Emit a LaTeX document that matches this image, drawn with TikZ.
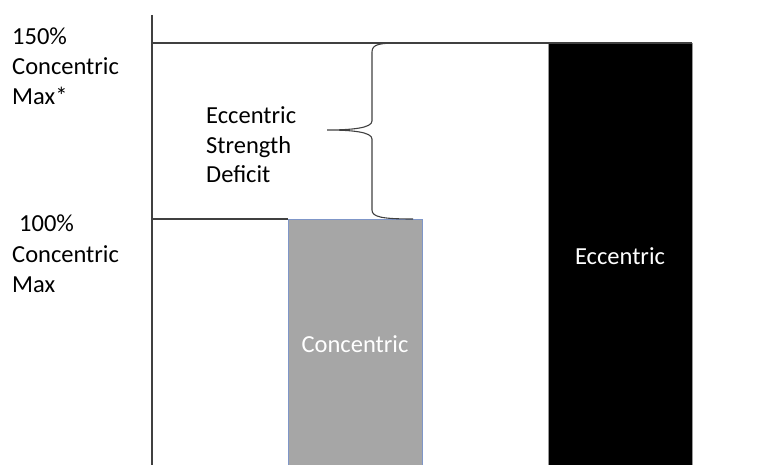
\documentclass[tikz,border=0pt]{standalone}
\usepackage{fontspec}
\setmainfont{Carlito}
\definecolor{linegray}{HTML}{404040}
\definecolor{barfill}{HTML}{A6A6A6}
\definecolor{barblue}{HTML}{7F96C8}
\begin{document}
\begin{tikzpicture}[x=1pt,y=-1pt,
  lbl/.style={anchor=base west,inner sep=0pt,font=\fontsize{24.5}{30}\selectfont},
  barlbl/.style={anchor=base,inner sep=0pt,text=white,font=\fontsize{24.5}{30}\selectfont},
  axisline/.style={draw=linegray,line width=1.4pt},
  bracestyle/.style={draw=linegray,line width=1.1pt}]
\useasboundingbox (0,0) rectangle (771,465);
% bars
\fill[black] (548,43) rectangle (692,465);
\draw[draw=gray!80,line width=0.6pt] (548,465) -- (548,43) -- (692,43) -- (692,465);
\filldraw[fill=barfill,draw=barblue,line width=0.8pt] (288,465) -- (288,219) -- (422,219) -- (422,465);
% axis and reference lines
\coordinate (axtop) at (152,15);
\coordinate (axbot) at (152,465);
\coordinate (top150) at (152,43);
\coordinate (topend) at (692,43);
\coordinate (top100) at (152,219);
\coordinate (gray100) at (288,219);
\draw[axisline] (axtop) -- (axbot);
\draw[axisline] (top150) -- (topend);
\draw[axisline] (top100) -- (gray100);
% brace
\draw[bracestyle] (400,43) .. controls (380,43) and (372,44) .. (372,52)
  -- (372,121) .. controls (372,128) and (352,130) .. (327,130)
  .. controls (352,130) and (372,132) .. (372,139)
  -- (372,210) .. controls (372,217) and (382,219) .. (413,219);
% labels
\node[lbl] (a1) at (12,45) {150\%};
\node[lbl] (a2) at (12,75) {Concentric};
\node[lbl] (a3) at (12,105) {Max*};
\node[lbl] (b1) at (19,232) {100\%};
\node[lbl] (b2) at (12,262) {Concentric};
\node[lbl] (b3) at (12,292) {Max};
\node[lbl] (c1) at (206,124) {Eccentric};
\node[lbl] (c2) at (206,153.5) {Strength};
\node[lbl] (c3) at (206,183) {Deficit};
\node[barlbl] (g) at (355,352) {Concentric};
\node[barlbl] (k) at (620,265) {Eccentric};
\end{tikzpicture}
\end{document}
